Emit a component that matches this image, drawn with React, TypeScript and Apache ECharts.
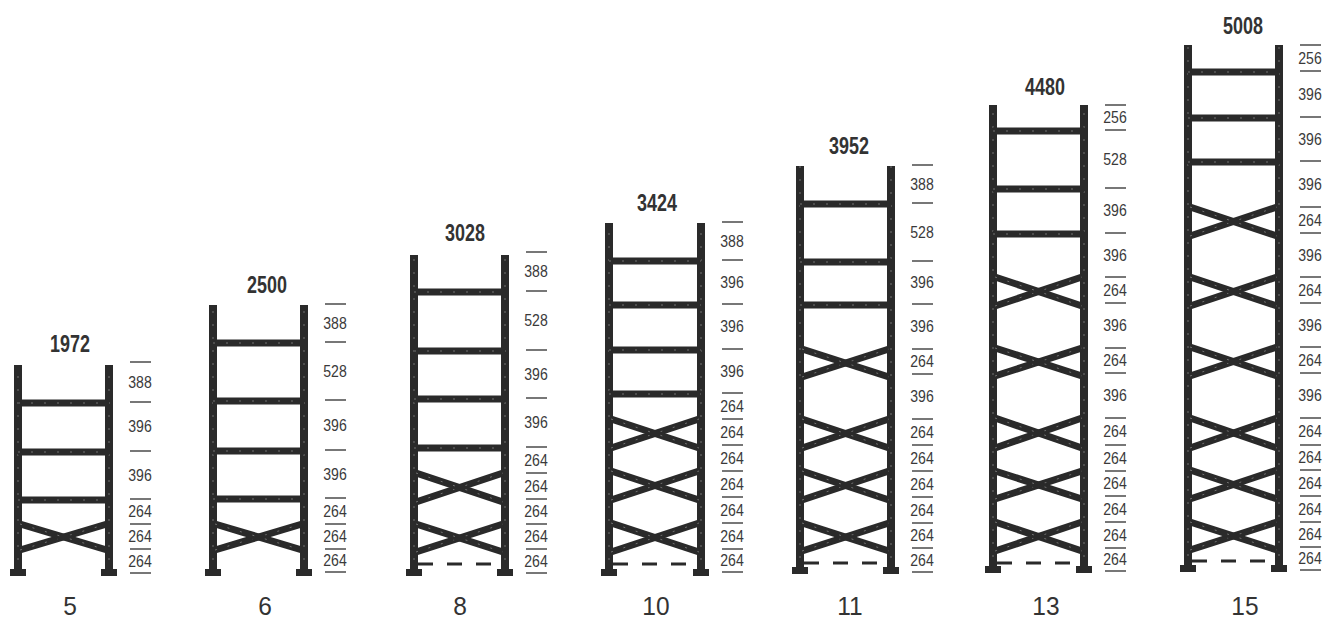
import React, { useEffect, useRef } from "react";
import * as echarts from "echarts";

// Number of levels / rack name, overall height in mm
const rackNames = ["5", "6", "8", "10", "11", "13", "15"];
const rackTotals = [1972, 2500, 3028, 3424, 3952, 4480, 5008];

// Spacing labels in mm, bottom to top
const spacings5 = [264, 264, 264, 396, 396, 388];
const spacings6 = [264, 264, 264, 396, 396, 528, 388];
const spacings8 = [264, 264, 264, 264, 264, 396, 396, 528, 388];
const spacings10 = [264, 264, 264, 264, 264, 264, 264, 396, 396, 396, 388];
const spacings11 = [264, 264, 264, 264, 264, 264, 396, 264, 396, 396, 528, 388];
const spacings13 = [264, 264, 264, 264, 264, 264, 396, 264, 396, 264, 396, 396, 528, 256];
const spacings15 = [264, 264, 264, 264, 264, 264, 396, 264, 396, 264, 396, 264, 396, 396, 396, 256];

// Level heights as they appear in the drawing (not to scale with the mm labels)
const levels5 = [0, 24, 49, 74, 122, 171, 211];
const levels6 = [1, 24, 49, 75, 123, 173, 231, 269];
const levels8 = [0, 24, 49, 74, 100, 126, 175, 223, 282, 321];
const levels10 = [1, 24, 50, 76, 102, 128, 154, 180, 224, 269, 313, 351];
const levels11 = [1, 25, 50, 76, 102, 128, 154, 199, 224, 269, 312, 370, 408];
const levels13 = [2, 25, 51, 77, 102, 128, 155, 200, 225, 270, 296, 340, 385, 443, 468];
const levels15 = [3, 26, 51, 77, 103, 128, 155, 200, 226, 270, 296, 340, 366, 412, 456, 502, 528];

// Indices of levels carrying a horizontal beam / the lower level of a cross brace
const beams5 = [3, 4, 5];
const beams6 = [3, 4, 5, 6];
const beams8 = [5, 6, 7, 8];
const beams10 = [7, 8, 9, 10];
const beams11 = [9, 10, 11];
const beams13 = [11, 12, 13];
const beams15 = [13, 14, 15];
const crosses5 = [1];
const crosses6 = [1];
const crosses8 = [1, 3];
const crosses10 = [1, 3, 5];
const crosses11 = [1, 3, 5, 7];
const crosses13 = [1, 3, 5, 7, 9];
const crosses15 = [1, 3, 5, 7, 9, 11];

const rackLeft = [18, 213, 414, 609, 800, 993, 1188];
const rackRight = [109, 304, 505, 701, 891, 1084, 1279];
const rackFloor = [0, 0, 0, 0, 2, 3, 4];
const dashLevel = [null, null, 9, 9, 10, 10, 12];
const topLevel = [208, 268, 318, 350, 407, 468, 528];
const totalLabelHeight = [229, 288, 340, 370, 427, 486, 547];
const totalLabelX = [70, 267, 465, 657, 849, 1045, 1243];
const nameLabelX = [70, 265, 460, 656, 850, 1046, 1245];

const allSpacings = [spacings5, spacings6, spacings8, spacings10, spacings11, spacings13, spacings15];
const allLevels = [levels5, levels6, levels8, levels10, levels11, levels13, levels15];
const allBeams = [beams5, beams6, beams8, beams10, beams11, beams13, beams15];
const allCrosses = [crosses5, crosses6, crosses8, crosses10, crosses11, crosses13, crosses15];

const INK = "#2a2a2a";
const SPECK = "#707070";
const FONT = "'Liberation Sans', Arial, sans-serif";

function renderRack(params: any, api: any) {
  const i = api.value(0) as number;
  const L = rackLeft[i];
  const R = rackRight[i];
  const floor = rackFloor[i];
  const levels = allLevels[i];
  const spacings = allSpacings[i];
  const px = (x: number, h: number) => api.coord([x, h]);
  const children: any[] = [];
  const line = (x1: number, h1: number, x2: number, h2: number, width: number, color: string, dash?: number[]) => {
    const a = px(x1, h1);
    const b = px(x2, h2);
    children.push({
      type: "line",
      shape: { x1: a[0], y1: a[1], x2: b[0], y2: b[1] },
      style: { stroke: color, lineWidth: width, lineDash: dash, fill: null },
    });
  };
  const member = (x1: number, h1: number, x2: number, h2: number, width: number) => {
    line(x1, h1, x2, h2, width, INK);
    line(x1, h1, x2, h2, 1, SPECK, [2, 11]);
  };
  const text = (x: number, h: number, str: string, size: number, weight: string, color: string, squeeze: number) => {
    const a = px(x, h);
    children.push({
      type: "text",
      x: a[0],
      y: a[1],
      scaleX: squeeze,
      style: {
        text: str,
        x: 0,
        y: 0,
        align: "center",
        verticalAlign: "middle",
        fontFamily: FONT,
        fontSize: size,
        fontWeight: weight,
        fill: color,
      },
    });
  };

  // uprights and feet
  [L, R].forEach((x) => {
    member(x, floor, x, topLevel[i], 8);
    line(x - 8, floor + 0.5, x + 8, floor + 0.5, 7, INK);
  });
  // beams
  allBeams[i].forEach((idx) => member(L, levels[idx] - 1, R, levels[idx] - 1, 7));
  // cross braces
  allCrosses[i].forEach((idx) => {
    const lo = levels[idx] - (i >= 2 ? 3 : 1);
    const hi = levels[idx + 1];
    member(L + 2, lo, R - 2, hi, 7);
    member(L + 2, hi, R - 2, lo, 7);
  });
  // dashed bottom tie
  const dl = dashLevel[i];
  if (dl !== null) line(L + 4, dl, R - 6, dl, 3, INK, [15, 14]);
  // dimension ticks and labels
  levels.forEach((h) => line(R + 21, h, R + 42, h, 1.6, "#555"));
  spacings.forEach((v, k) => {
    text(R + 31, (levels[k] + levels[k + 1]) / 2, String(v), 16, "normal", "#3a3a3a", 0.88);
  });
  // overall height and level count
  text(totalLabelX[i], totalLabelHeight[i], String(rackTotals[i]), 23, "bold", "#333", 0.78);
  text(nameLabelX[i], -33.5, rackNames[i], 25, "normal", "#333", 0.98);

  return { type: "group", children };
}

export default function App() {
  const ref = useRef<HTMLDivElement>(null);
  useEffect(() => {
    document.body.style.margin = "0";
    const chart = echarts.init(ref.current!, undefined, { renderer: "svg" });
    chart.setOption({
      animation: false,
      backgroundColor: "#ffffff",
      grid: { left: 0, right: 0, top: 0, bottom: 0 },
      xAxis: { type: "value", min: 0, max: 1324, show: false },
      yAxis: { type: "value", min: -46, max: 573, show: false },
      series: [
        {
          type: "custom",
          coordinateSystem: "cartesian2d",
          clip: false,
          renderItem: renderRack,
          encode: { x: 0, y: 1 },
          data: rackNames.map((_, i) => [i, rackTotals[i]]),
        },
      ],
    });
    return () => chart.dispose();
  }, []);
  return <div ref={ref} style={{ width: 1324, height: 619 }} />;
}
